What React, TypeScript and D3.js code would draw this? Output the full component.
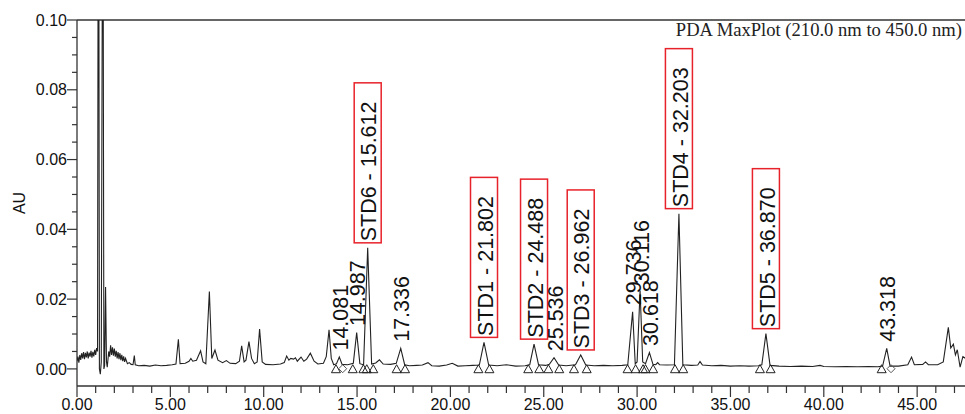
import React from "react";
import * as d3 from "d3";

// ---- data ----
const TRACE: [number, number][] = [
  [0.00,0.0022],[0.05,0.0035],[0.10,0.0018],[0.15,0.0040],[0.20,0.0026],[0.25,0.0045],[0.30,0.0030],[0.35,0.0048],[0.40,0.0028],[0.45,0.0046],
  [0.50,0.0033],[0.55,0.0050],[0.60,0.0030],[0.65,0.0047],[0.70,0.0035],[0.75,0.0052],[0.80,0.0032],[0.85,0.0049],[0.90,0.0036],[0.95,0.0055],
  [1.00,0.0040],[1.05,0.0060],[1.10,0.0050],[1.13,0.12],[1.17,0.12],[1.20,0.0],[1.25,-0.0015],[1.30,0.002],[1.36,0.12],[1.40,0.12],
  [1.44,0.0],[1.48,0.001],[1.53,0.0235],[1.58,0.002],[1.62,0.0005],[1.70,0.005],[1.75,0.0035],[1.80,0.0068],[1.85,0.004],[1.90,0.0062],
  [1.95,0.0038],[2.00,0.0058],[2.05,0.0035],[2.10,0.0052],[2.15,0.003],[2.20,0.0048],[2.25,0.0028],[2.30,0.0045],[2.35,0.0025],[2.40,0.004],
  [2.45,0.0022],[2.50,0.0036],[2.55,0.002],[2.60,0.003],[2.70,0.0015],[2.80,0.0018],[2.90,0.0013],[3.00,0.0012],[3.07,0.0038],[3.12,0.0012],
  [3.3,0.0009],[3.6,0.0010],[3.9,0.0008],[4.2,0.0011],[4.5,0.0009],[4.8,0.0010],[5.1,0.0012],[5.3,0.0014],[5.43,0.0085],[5.52,0.0015],
  [5.8,0.0016],[6.0,0.0022],[6.1,0.0030],[6.2,0.0022],[6.4,0.0025],[6.62,0.0052],[6.75,0.002],[6.9,0.0015],[7.09,0.0222],[7.22,0.003],
  [7.39,0.0054],[7.55,0.0025],[7.8,0.0018],[8.0,0.0024],[8.2,0.0016],[8.5,0.0015],[8.7,0.0022],[8.82,0.0066],[8.95,0.002],[9.05,0.0025],
  [9.21,0.0078],[9.35,0.003],[9.5,0.0015],[9.65,0.002],[9.78,0.0114],[9.92,0.002],[10.1,0.0013],[10.5,0.0012],[10.9,0.0014],[11.1,0.0018],
  [11.23,0.0037],[11.35,0.0025],[11.45,0.0030],[11.6,0.0028],[11.7,0.0032],[11.8,0.0022],[12.0,0.0034],[12.15,0.0022],[12.3,0.0028],[12.5,0.0045],
  [12.7,0.0022],[12.9,0.0014],[13.2,0.0016],[13.35,0.0035],[13.5,0.0112],[13.62,0.003],[13.75,0.0012],[13.9,0.0015],[14.05,0.0034],[14.2,0.0013],
  [14.5,0.0012],[14.8,0.0016],[14.98,0.0104],[15.15,0.0015],[15.35,0.0012],[15.57,0.0347],[15.78,0.0014],[16.0,0.0017],[16.2,0.0026],[16.4,0.0014],
  [16.8,0.0013],[17.1,0.0016],[17.34,0.0059],[17.55,0.0012],[17.8,0.0009],[18.2,0.001],[18.5,0.0011],[18.8,0.0018],[19.0,0.0009],[19.4,0.0008],
  [19.8,0.0011],[20.1,0.0016],[20.4,0.0008],[20.8,0.0009],[21.2,0.001],[21.55,0.0011],[21.8,0.0076],[22.05,0.0011],[22.5,0.0009],[23.0,0.0012],
  [23.5,0.0008],[24.0,0.0009],[24.25,0.0012],[24.48,0.0071],[24.72,0.0012],[25.1,0.0010],[25.3,0.0013],[25.55,0.0032],[25.8,0.0011],[26.2,0.0009],
  [26.7,0.0012],[26.98,0.004],[27.25,0.0011],[27.7,0.0009],[28.2,0.0010],[28.7,0.0009],[29.2,0.0010],[29.5,0.0012],[29.76,0.0164],[29.9,0.0015],
  [30.0,0.002],[30.16,0.0224],[30.3,0.002],[30.45,0.0015],[30.66,0.0047],[30.85,0.0013],[31.0,0.0012],[31.1,0.0018],[31.2,0.0012],[31.6,0.0011],
  [32.0,0.0012],[32.24,0.0445],[32.45,0.0012],[32.9,0.0010],[33.25,0.0011],[33.37,0.0021],[33.5,0.0011],[34.0,0.0009],[34.5,0.001],[35.0,0.0008],
  [35.5,0.0009],[36.0,0.0008],[36.5,0.0009],[36.68,0.0012],[36.9,0.0101],[37.12,0.0010],[37.6,0.0008],[38.2,0.0007],[38.8,0.0008],[39.4,0.0007],
  [39.8,0.0010],[40.0,0.0007],[40.6,0.0006],[41.2,0.0007],[41.8,0.0006],[42.4,0.0007],[42.9,0.0006],[43.15,0.0008],[43.37,0.0059],[43.55,0.0008],
  [44.0,0.0008],[44.5,0.0012],[44.7,0.0034],[44.85,0.0012],[45.3,0.0013],[45.45,0.002],[45.6,0.0012],[46.1,0.0012],[46.4,0.002],[46.67,0.0119],
  [46.8,0.006],[46.94,0.0071],[47.05,0.004],[47.15,0.0055],[47.3,0.0005],[47.45,0.0035],[47.6,0.003],
];

const TRIANGLES: number[] = [13.87, 14.77, 15.34, 15.52, 15.87, 17.12, 17.57, 21.5, 22.09, 24.17, 24.76, 25.25, 25.83,
  26.62, 27.3, 29.49, 29.92, 30.32, 30.45, 30.86, 32.03, 32.47, 36.58, 37.15, 43.1];
const DIAMONDS: number[] = [14.23, 43.6];

const LABEL_TEXT: string[] = ["14.081", "14.987", "STD6 - 15.612", "17.336", "STD1 - 21.802", "STD2 - 24.488", "25.536",
  "STD3 - 26.962", "29.736", "30.116", "30.618", "STD4 - 32.203", "STD5 - 36.870", "43.318"];
const LABEL_T: number[] = [14.05, 14.98, 15.57, 17.34, 21.8, 24.48, 25.55, 26.98, 29.76, 30.16, 30.66, 32.24, 36.9, 43.37];
const LABEL_H: number[] = [0.0034, 0.0104, 0.0347, 0.0059, 0.0076, 0.0071, 0.0032, 0.004, 0.0164, 0.0224, 0.0047, 0.0445, 0.0101, 0.0059];
const LABEL_BOXED: boolean[] = [false, false, true, false, true, true, false, true, false, false, false, true, true, false];

const X_MAJOR: number[] = [0, 5, 10, 15, 20, 25, 30, 35, 40, 45];
const Y_MAJOR: number[] = [0, 0.02, 0.04, 0.06, 0.08, 0.1];
const TITLE = "PDA MaxPlot (210.0 nm to 450.0 nm)";

export default function App() {
  const W = 965, H = 414;
  const left = 77, right = 965, top = 20, bottom = 386;
  const x = d3.scaleLinear().domain([0, (right - left) / 18.67]).range([left, right]);
  const y = d3.scaleLinear().domain([-0.0049, 0.1]).range([bottom, top]);
  const line = d3.line<[number, number]>().x(d => x(d[0])).y(d => y(d[1]));
  const xMinor = d3.range(0, 48, 1);
  const yMinor = d3.range(0, 0.1001, 0.005);
  const font = "Liberation Sans, Arial, sans-serif";
  const tickColor = "#333";

  return (
    <svg width={W} height={H} style={{ position: "absolute", left: 0, top: 0, background: "#fff" }}>
      <defs>
        <clipPath id="plot"><rect x={left} y={top} width={right - left} height={bottom - top} /></clipPath>
      </defs>
      {/* top frame line */}
      <line x1={left} x2={right} y1={top} y2={top} stroke="#666" strokeWidth={2} />
      {/* axes */}
      <line x1={left} x2={left} y1={top} y2={bottom} stroke={tickColor} strokeWidth={1.3} />
      <line x1={left} x2={right} y1={bottom} y2={bottom} stroke={tickColor} strokeWidth={1.3} />
      {xMinor.map(t => {
        const major = X_MAJOR.includes(t);
        return <line key={"xt" + t} x1={x(t)} x2={x(t)} y1={bottom} y2={bottom + (major ? 11 : 7)} stroke={tickColor} strokeWidth={1.2} />;
      })}
      {X_MAJOR.map(t => (
        <text key={"xl" + t} x={x(t)} y={bottom + 24} textAnchor="middle" fontFamily={font} fontSize={16} fill="#111">{d3.format(".2f")(t)}</text>
      ))}
      {yMinor.map((v, i) => {
        const major = Y_MAJOR.some(m => Math.abs(m - v) < 1e-6);
        return <line key={"yt" + i} x1={left - (major ? 10 : 5)} x2={left} y1={y(v)} y2={y(v)} stroke={tickColor} strokeWidth={1.2} />;
      })}
      {Y_MAJOR.map(v => (
        <text key={"yl" + v} x={left - 10} y={y(v)} dy="0.35em" textAnchor="end" fontFamily={font} fontSize={16} fill="#111">{d3.format(".2f")(v)}</text>
      ))}
      <text transform={`translate(19,${(top + bottom) / 2}) rotate(-90)`} textAnchor="middle" dy="0.35em" fontFamily={font} fontSize={16} fill="#111">AU</text>
      <text x={962} y={36} textAnchor="end" fontFamily="Liberation Serif, Times New Roman, serif" fontSize={18.6} fill="#222">{TITLE}</text>

      {/* trace */}
      <path d={line(TRACE) || ""} fill="none" stroke="#222" strokeWidth={1.1} clipPath="url(#plot)" />

      {/* peak markers */}
      {TRIANGLES.map((t, i) => {
        const cx = x(t), ty = y(0.0012);
        return <path key={"tr" + i} d={`M${cx},${ty} L${cx - 4.5},${ty + 8} L${cx + 4.5},${ty + 8} Z`} fill="none" stroke="#222" strokeWidth={1} />;
      })}
      {DIAMONDS.map((t, i) => {
        const cx = x(t), cy = y(0.0012) + 4;
        return <path key={"dm" + i} d={`M${cx},${cy - 4} L${cx + 4},${cy} L${cx},${cy + 4} L${cx - 4},${cy} Z`} fill="none" stroke="#555" strokeWidth={1} />;
      })}

      {/* peak labels */}
      {LABEL_TEXT.map((txt, i) => {
        const px = x(LABEL_T[i]);
        const py = y(LABEL_H[i]);
        const by = py - 5;
        return (
          <g key={"lb" + i}>
            {LABEL_BOXED[i] && (
              <rect x={px - 13.5} y={by - 160} width={27} height={160} fill="none" stroke="#e8222a" strokeWidth={1.5} />
            )}
            <text transform={`translate(${px + 1},${by - 1.5}) rotate(-90)`} dy="0.36em" fontFamily={font} fontSize={21.5} fill="#111">{txt}</text>
          </g>
        );
      })}
    </svg>
  );
}
